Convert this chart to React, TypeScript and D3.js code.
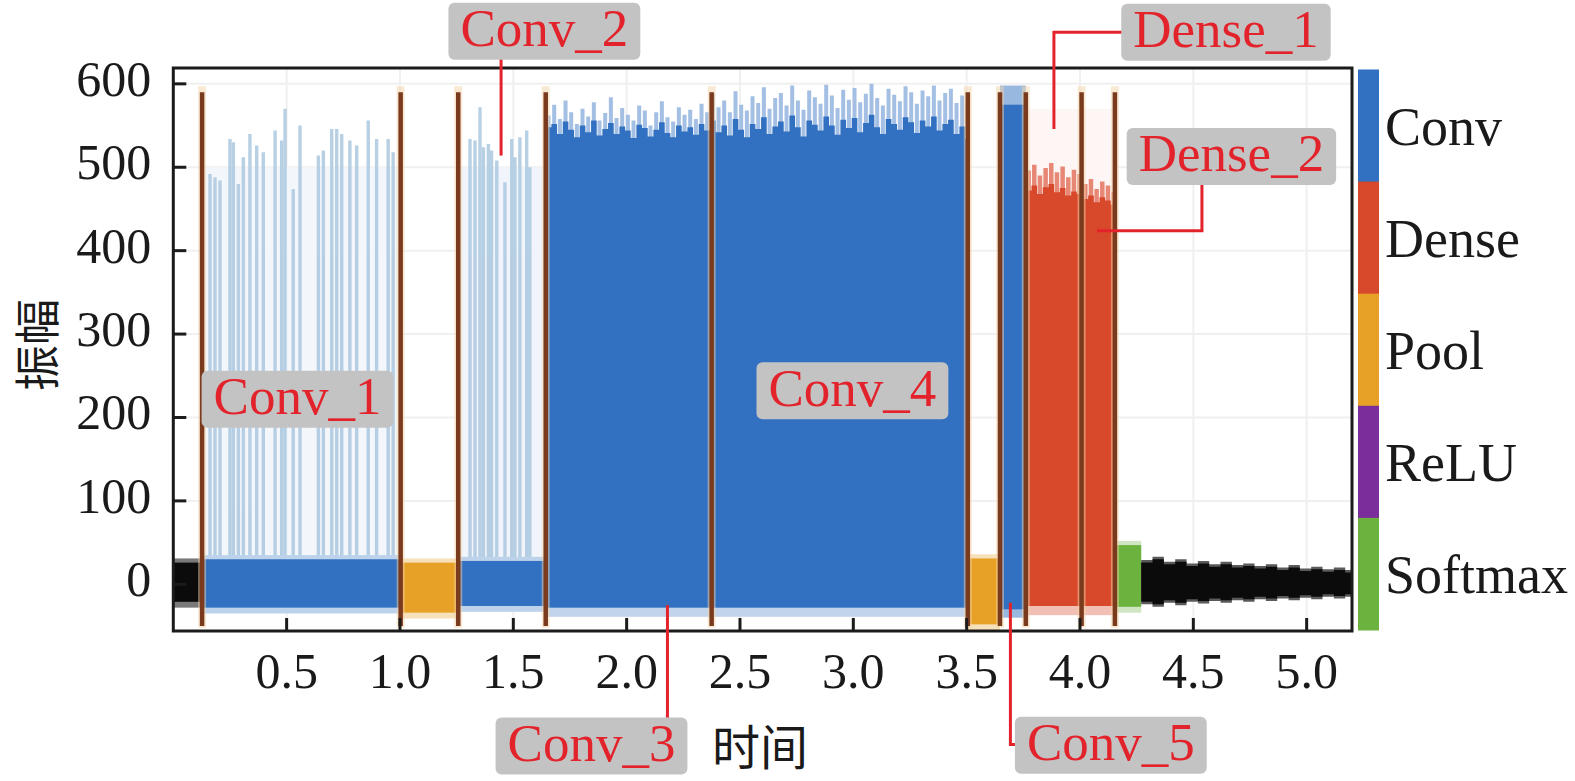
import React, { useEffect, useRef } from 'react'
import * as d3 from 'd3'

const W = 1575
const H = 781

// colour bar categories
const layerTypes = ['Conv', 'Dense', 'Pool', 'ReLU', 'Softmax']
const layerColors = ['#3271c1', '#d8482a', '#e6a126', '#7b2d9b', '#6bb23f']

const xTicks = [0.5, 1.0, 1.5, 2.0, 2.5, 3.0, 3.5, 4.0, 4.5, 5.0]
const yTicks = [0, 100, 200, 300, 400, 500, 600]

// layer boundaries (brown markers)
const markerTimes = [0.127, 1.003, 1.257, 1.643, 2.375, 3.505, 3.647, 3.761, 4.007, 4.154]

// low amplitude segments: [start, end, type, lo, hi]
const bandSegments: [number, number, string, number, number][] = [
  [0, 0.127, 'Idle', -21, 26],
  [0.127, 1.003, 'Conv', -28, 30],
  [1.003, 1.257, 'Pool', -34, 26],
  [1.257, 1.643, 'Conv', -26, 28],
  [3.505, 3.647, 'Pool', -48, 31],
  [4.162, 4.27, 'Softmax', -27, 47],
]

// pale background washes above sparse layers: [start, end, type, top, tint]
const washes: [number, number, string, number, number][] = [
  [0.127, 1.003, 'Conv', 500, 0.94],
  [1.257, 1.643, 'Conv', 290, 0.84],
  [1.257, 1.643, 'Conv', 500, 0.93],
  [3.761, 4.154, 'Dense', 570, 0.95],
]

// sparse spikes in Conv_1 and Conv_2: [time, amplitude]
const conv1Spikes: [number, number][] = [
  [0.162, 492], [0.184, 488], [0.206, 484], [0.25, 534], [0.265, 530], [0.287, 480],
  [0.309, 512], [0.338, 540], [0.368, 526], [0.397, 518], [0.449, 544], [0.478, 532],
  [0.493, 570], [0.529, 474], [0.559, 550], [0.64, 514], [0.662, 520], [0.699, 546],
  [0.721, 546], [0.743, 540], [0.779, 532], [0.809, 526], [0.86, 556], [0.897, 534],
  [0.948, 534], [0.97, 518],
]
const conv2Spikes: [number, number][] = [
  [1.309, 534], [1.331, 532], [1.353, 572], [1.368, 524], [1.39, 528], [1.404, 520],
  [1.427, 508], [1.463, 482], [1.493, 534], [1.507, 512], [1.529, 536], [1.559, 544],
  [1.573, 500],
]

// dense Conv_3 + Conv_4 envelope, sampled every 0.025 from 1.643
const conv34Start = 1.643
const conv34End = 3.505
const conv34Peak = [
  562, 575, 558, 580, 566, 552, 570, 561, 578, 556, 565, 584, 559, 571, 563, 556, 574, 568, 550, 566,
  579, 560, 555, 572, 563, 569, 558, 576, 566,
  588, 572, 580, 566, 591, 575, 568, 585, 577, 596, 570, 583, 589, 574, 598, 580, 569, 592, 584, 576,
  599, 586, 571, 593, 581, 595, 578, 588, 600, 583, 574, 594, 587, 579, 597, 590, 576, 592, 585, 598,
  580, 589, 594, 577, 586, 570,
]
const conv34Body = [
  548, 552, 540, 555, 545, 536, 550, 542, 556, 538, 546, 553, 540, 549, 544, 535, 551, 547, 537, 545,
  554, 541, 536, 550, 543, 548, 539, 552, 544,
  556, 542, 550, 538, 558, 545, 536, 552, 546, 560, 540, 549, 555, 543, 562, 548, 537, 556, 551, 544,
  561, 550, 539, 557, 547, 559, 542, 553, 563, 548, 540, 558, 552, 545, 560, 554, 541, 556, 549, 561,
  544, 552, 557, 540, 549, 534,
]

// Conv_5 block
const conv5 = { start: 3.647, end: 3.761, lo: -30, body: 575, peak: 598 }

// Dense_1 + Dense_2 envelope, sampled every 0.025 from 3.761
const denseStart = 3.761
const denseEnd = 4.154
const densePeak = [496, 503, 490, 499, 505, 494, 501, 488, 497, 492, 480, 486, 474, 483, 478, 470]
const denseBody = [472, 478, 468, 476, 480, 470, 475, 466, 471, 468, 462, 466, 458, 464, 460, 455]

// idle tail after Softmax, sampled every 0.05 from 4.27
const tailStart = 4.27
const tailEnd = 5.2
const tailHi = [26, 30, 24, 27, 22, 25, 21, 24, 20, 22, 19, 21, 17, 20, 16, 18, 15, 17, 14]
const tailLo = [-21, -24, -19, -22, -18, -20, -17, -19, -16, -18, -15, -17, -14, -16, -13, -15, -12, -14, -12]

// callout labels: centre (time, amplitude) and leader path
const annotations: { text: string; t: number; v: number; leader: [number, number][] }[] = [
  { text: 'Conv_1', t: 0.548, v: 222, leader: [] },
  { text: 'Conv_2', t: 1.637, v: 663, leader: [[1.446, 514], [1.446, 663]] },
  { text: 'Conv_3', t: 1.845, v: -194, leader: [[2.18, -25], [2.18, -194]] },
  { text: 'Conv_4', t: 2.996, v: 232, leader: [] },
  { text: 'Conv_5', t: 4.136, v: -193, leader: [[3.693, -22], [3.693, -192], [4.136, -192]] },
  { text: 'Dense_1', t: 4.644, v: 662, leader: [[3.885, 546], [3.885, 662], [4.644, 662]] },
  { text: 'Dense_2', t: 4.668, v: 513, leader: [[4.075, 424], [4.538, 424], [4.538, 513]] },
]

const serif = '"Liberation Serif", "Times New Roman", serif'
const cjk = '"Noto Sans CJK SC", sans-serif'

export default function App() {
  const svgRef = useRef<SVGSVGElement | null>(null)

  useEffect(() => {
    document.body.style.margin = '0'
    if (!svgRef.current) return
    const svg = d3.select(svgRef.current)
    svg.selectAll('*').remove()

    const x = d3.scaleLinear().domain([0, 5.2]).range([173.3, 1352])
    const y = d3.scaleLinear().domain([-56, 619]).range([631, 68])
    const [left, right] = x.range()
    const [bottom, top] = y.range()

    const colorOf = (type: string) =>
      type === 'Idle' ? '#0b0b0b' : layerColors[layerTypes.indexOf(type)]
    const tint = (c: string, k: number) => d3.interpolateRgb(c, '#ffffff')(k)

    svg.append('rect').attr('width', W).attr('height', H).attr('fill', '#fff')

    svg.append('defs').append('clipPath').attr('id', 'plot-clip')
      .append('rect')
      .attr('x', left).attr('y', top)
      .attr('width', right - left).attr('height', bottom - top)

    const plot = svg.append('g').attr('clip-path', 'url(#plot-clip)')

    // faint grid
    plot.append('g').selectAll('line').data(xTicks).join('line')
      .attr('x1', d => x(d)).attr('x2', d => x(d))
      .attr('y1', top).attr('y2', bottom)
      .attr('stroke', '#f0f0f0').attr('stroke-width', 2)
    plot.append('g').selectAll('line').data(yTicks).join('line')
      .attr('x1', left).attr('x2', right)
      .attr('y1', d => y(d)).attr('y2', d => y(d))
      .attr('stroke', '#f0f0f0').attr('stroke-width', 2)

    // washes
    plot.append('g').selectAll('rect').data(washes).join('rect')
      .attr('x', d => x(d[0])).attr('width', d => x(d[1]) - x(d[0]))
      .attr('y', d => y(d[3])).attr('height', d => y(25) - y(d[3]))
      .attr('fill', d => tint(colorOf(d[2]), d[4]))

    // sparse spikes
    plot.append('g').selectAll('line').data([...conv1Spikes, ...conv2Spikes]).join('line')
      .attr('x1', d => x(d[0])).attr('x2', d => x(d[0]))
      .attr('y1', y(20)).attr('y2', d => y(d[1]))
      .attr('stroke', '#abc8e0').attr('stroke-width', 3.4).attr('opacity', 0.85)

    const stepPoints = (start: number, step: number, vals: number[], end: number) => {
      const pts = vals.map((v, i) => [start + i * step, v] as [number, number])
      pts.push([end, vals[vals.length - 1]])
      return pts
    }
    const stepArea = (lo: number) =>
      d3.area<[number, number]>()
        .x(d => x(d[0])).y0(y(lo)).y1(d => y(d[1]))
        .curve(d3.curveStepAfter)

    const conv = colorOf('Conv')
    const dense = colorOf('Dense')

    // dense Conv_3/Conv_4: light fuzz below, light spikes above, solid body
    plot.append('rect')
      .attr('x', x(conv34Start)).attr('width', x(conv34End) - x(conv34Start))
      .attr('y', y(-28)).attr('height', y(-39) - y(-28))
      .attr('fill', tint(conv, 0.7))
    plot.append('g').selectAll('line').data(conv34Peak).join('line')
      .attr('x1', (d, i) => x(conv34Start + i * 0.025) + 2.8)
      .attr('x2', (d, i) => x(conv34Start + i * 0.025) + 2.8)
      .attr('y1', y(500)).attr('y2', d => y(d))
      .attr('stroke', tint(conv, 0.55)).attr('stroke-width', 4)
    plot.append('path').datum(stepPoints(conv34Start, 0.025, conv34Body, conv34End))
      .attr('d', stepArea(-28)).attr('fill', conv)

    // Conv_5
    plot.append('rect')
      .attr('x', x(conv5.start)).attr('width', x(conv5.end) - x(conv5.start))
      .attr('y', y(conv5.peak)).attr('height', y(conv5.lo - 10) - y(conv5.peak))
      .attr('fill', tint(conv, 0.5))
    plot.append('rect')
      .attr('x', x(conv5.start)).attr('width', x(conv5.end) - x(conv5.start))
      .attr('y', y(conv5.body)).attr('height', y(conv5.lo) - y(conv5.body))
      .attr('fill', conv)

    // Dense_1/Dense_2
    plot.append('rect')
      .attr('x', x(denseStart)).attr('width', x(denseEnd) - x(denseStart))
      .attr('y', y(-26)).attr('height', y(-37) - y(-26))
      .attr('fill', tint(dense, 0.65))
    plot.append('g').selectAll('line').data(densePeak).join('line')
      .attr('x1', (d, i) => x(denseStart + i * 0.025) + 2.8)
      .attr('x2', (d, i) => x(denseStart + i * 0.025) + 2.8)
      .attr('y1', y(440)).attr('y2', d => y(d))
      .attr('stroke', tint(dense, 0.35)).attr('stroke-width', 4.5)
    plot.append('path').datum(stepPoints(denseStart, 0.025, denseBody, denseEnd))
      .attr('d', stepArea(-26)).attr('fill', dense)

    // low-amplitude bands with a soft halo
    const bands = plot.append('g')
    bands.selectAll('rect.halo').data(bandSegments).join('rect')
      .attr('class', 'halo')
      .attr('x', d => x(d[0])).attr('width', d => x(d[1]) - x(d[0]))
      .attr('y', d => y(d[4] + 5)).attr('height', d => y(d[3] - 7) - y(d[4] + 5))
      .attr('fill', d => tint(colorOf(d[2]), d[2] === 'Idle' ? 0.45 : 0.68))
    bands.selectAll('rect.core').data(bandSegments).join('rect')
      .attr('class', 'core')
      .attr('x', d => x(d[0])).attr('width', d => x(d[1]) - x(d[0]))
      .attr('y', d => y(d[4])).attr('height', d => y(d[3]) - y(d[4]))
      .attr('fill', d => colorOf(d[2]))

    // idle tail
    const tailPts = tailHi.map((h, i) => ({ t: tailStart + i * 0.05, hi: h, lo: tailLo[i] }))
    tailPts.push({ t: tailEnd, hi: tailHi[tailHi.length - 1], lo: tailLo[tailLo.length - 1] })
    plot.append('path').datum(tailPts)
      .attr('d', d3.area<{ t: number; hi: number; lo: number }>()
        .x(d => x(d.t)).y0(d => y(d.lo - 3)).y1(d => y(d.hi + 3))
        .curve(d3.curveStepAfter))
      .attr('fill', '#5a5a5a')
    plot.append('path').datum(tailPts)
      .attr('d', d3.area<{ t: number; hi: number; lo: number }>()
        .x(d => x(d.t)).y0(d => y(d.lo)).y1(d => y(d.hi))
        .curve(d3.curveStepAfter))
      .attr('fill', '#0b0b0b')

    // layer boundary markers
    plot.append('g').selectAll('line').data(markerTimes).join('line')
      .attr('x1', d => x(d)).attr('x2', d => x(d))
      .attr('y1', y(-52)).attr('y2', y(597))
      .attr('stroke', '#f4d4a6').attr('stroke-width', 8).attr('opacity', 0.5)
    plot.append('g').selectAll('line').data(markerTimes).join('line')
      .attr('x1', d => x(d)).attr('x2', d => x(d))
      .attr('y1', y(-50)).attr('y2', y(590))
      .attr('stroke', '#7a3a1d').attr('stroke-width', 4.5)

    // frame
    svg.append('rect')
      .attr('x', left).attr('y', top)
      .attr('width', right - left).attr('height', bottom - top)
      .attr('fill', 'none').attr('stroke', '#1b1b1b').attr('stroke-width', 3)

    // ticks
    svg.append('g').selectAll('line').data(xTicks).join('line')
      .attr('x1', d => x(d)).attr('x2', d => x(d))
      .attr('y1', bottom).attr('y2', bottom - 13)
      .attr('stroke', '#1b1b1b').attr('stroke-width', 3)
    svg.append('g').selectAll('line').data(yTicks).join('line')
      .attr('x1', left).attr('x2', left + 13)
      .attr('y1', d => y(d)).attr('y2', d => y(d))
      .attr('stroke', '#1b1b1b').attr('stroke-width', 3)

    svg.append('g').selectAll('text').data(xTicks).join('text')
      .attr('x', d => x(d)).attr('y', 688)
      .attr('text-anchor', 'middle')
      .attr('font-family', serif).attr('font-size', 50).attr('fill', '#1a1a1a')
      .text(d => d3.format('.1f')(d))
    svg.append('g').selectAll('text').data(yTicks).join('text')
      .attr('x', left - 22).attr('y', d => y(d) + 12)
      .attr('text-anchor', 'end')
      .attr('font-family', serif).attr('font-size', 50).attr('fill', '#1a1a1a')
      .text(d => String(d))

    // colour bar
    const cb = d3.scaleBand<string>().domain(layerTypes).range([top + 1.5, bottom - 1])
    const cbg = svg.append('g')
    cbg.selectAll('rect').data(layerTypes).join('rect')
      .attr('x', 1358).attr('width', 21)
      .attr('y', d => cb(d)!).attr('height', cb.bandwidth() + 0.5)
      .attr('fill', (d, i) => layerColors[i])
    cbg.selectAll('text').data(layerTypes).join('text')
      .attr('x', 1385).attr('y', d => cb(d)! + cb.bandwidth() / 2 + 19)
      .attr('font-family', serif).attr('font-size', 54).attr('fill', '#1a1a1a')
      .text(d => d)

    // callouts
    const red = '#e3232b'
    const line = d3.line<[number, number]>().x(d => x(d[0])).y(d => y(d[1]))
    svg.append('g').selectAll('path').data(annotations.filter(a => a.leader.length)).join('path')
      .attr('d', d => line(d.leader))
      .attr('fill', 'none').attr('stroke', red).attr('stroke-width', 3)

    annotations.forEach(a => {
      const g = svg.append('g').attr('transform', `translate(${x(a.t)},${y(a.v)})`)
      const rect = g.append('rect').attr('fill', '#c3c3c3').attr('rx', 6)
      const label = g.append('text')
        .attr('text-anchor', 'middle').attr('y', 15)
        .attr('font-family', serif).attr('font-size', 53).attr('fill', red)
        .text(a.text)
      const tw = (label.node() as SVGTextElement).getComputedTextLength()
      const bw = tw + 24
      rect.attr('x', -bw / 2).attr('y', -28.5).attr('width', bw).attr('height', 57)
    })

    // axis titles
    svg.append('text')
      .attr('x', 760).attr('y', 765)
      .attr('text-anchor', 'middle')
      .attr('font-family', cjk).attr('font-size', 48).attr('fill', '#1a1a1a')
      .text('时间')
    svg.append('text')
      .attr('transform', 'translate(54,345) rotate(-90)')
      .attr('text-anchor', 'middle')
      .attr('font-family', cjk).attr('font-size', 46).attr('fill', '#1a1a1a')
      .text('振幅')
  }, [])

  return <svg ref={svgRef} width={W} height={H} style={{ display: 'block' }} />
}
